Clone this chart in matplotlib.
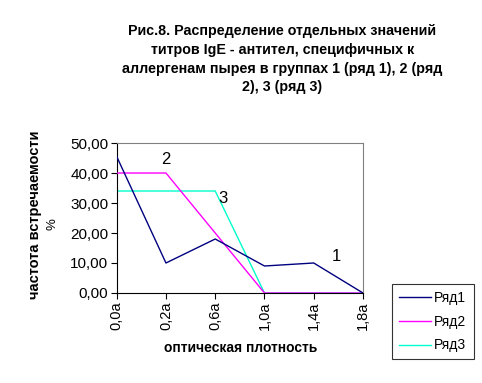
import matplotlib
matplotlib.use("Agg")
import matplotlib.pyplot as plt

plt.rcParams["font.family"] = ["Liberation Sans", "DejaVu Sans"]

categories = ["0,0а", "0,2а", "0,6а", "1,0а", "1,4а", "1,8а"]
row1 = [45.5, 10, 18, 9, 10, 0]
row2 = [40, 40, 20, 0, 0, 0]
row3 = [34, 34, 34, 0, 0, 0]
y_ticks = [0, 10, 20, 30, 40, 50]

fig = plt.figure(figsize=(4.82, 3.83), dpi=100)
ax = fig.add_axes([0.2421, 0.235, 0.511, 0.3916])

x = list(range(len(categories)))
ax.plot(x, row3, color="#00FFCC", lw=1.0, label="Ряд3", zorder=2)
ax.plot(x, row2, color="#FF00FF", lw=1.0, label="Ряд2", zorder=3)
ax.plot(x, row1, color="#000080", lw=1.0, label="Ряд1", zorder=4)

ax.set_xlim(0, len(categories) - 1)
ax.set_ylim(0, 50)
ax.set_xticks(x)
ax.set_xticklabels(categories, rotation=90, fontsize=10.5)
ax.set_yticks(y_ticks)
ax.set_yticklabels([f"{v:.2f}".replace(".", ",") for v in y_ticks], fontsize=11)
ax.tick_params(direction="out", length=4, width=0.8, pad=2)

for side in ("top", "right"):
    ax.spines[side].set_color("#808080")
for side in ("left", "bottom"):
    ax.spines[side].set_color("black")
for sp in ax.spines.values():
    sp.set_linewidth(0.8)

# series number labels
ax.text(1, 44.5, "2", fontsize=12, ha="center", va="center")
ax.text(2.15, 31.5, "3", fontsize=12, ha="center", va="center")
ax.text(4.45, 12, "1", fontsize=12, ha="center", va="center")

fig.text(0.5, 0.091, "оптическая плотность", fontsize=10, fontweight="bold",
         ha="center", va="center")
fig.text(0.073, 0.438, "частота встречаемости", rotation=90, fontsize=10.5,
         fontweight="bold", ha="center", va="center")
fig.text(0.108, 0.415, "%", rotation=90, fontsize=9.5, ha="center", va="center")

fig.text(0.586, 0.845,
         "Рис.8. Распределение отдельных значений\n"
         "титров IgE - антител, специфичных к\n"
         "аллергенам пырея в группах 1 (ряд 1), 2 (ряд\n"
         "2), 3 (ряд 3)",
         ha="center", va="center", fontsize=10.3, fontweight="bold",
         linespacing=1.43)

handles, labels = ax.get_legend_handles_labels()
leg = fig.legend(handles[::-1], labels[::-1], loc="upper left",
                 bbox_to_anchor=(0.8133, 0.2585),
                 fontsize=10, frameon=True, fancybox=False, handlelength=2.3,
                 borderpad=0.5, labelspacing=0.7, handletextpad=0.25,
                 borderaxespad=0)
leg.get_frame().set_edgecolor("black")
leg.get_frame().set_linewidth(0.8)

fig.savefig("out.png", dpi=100)
